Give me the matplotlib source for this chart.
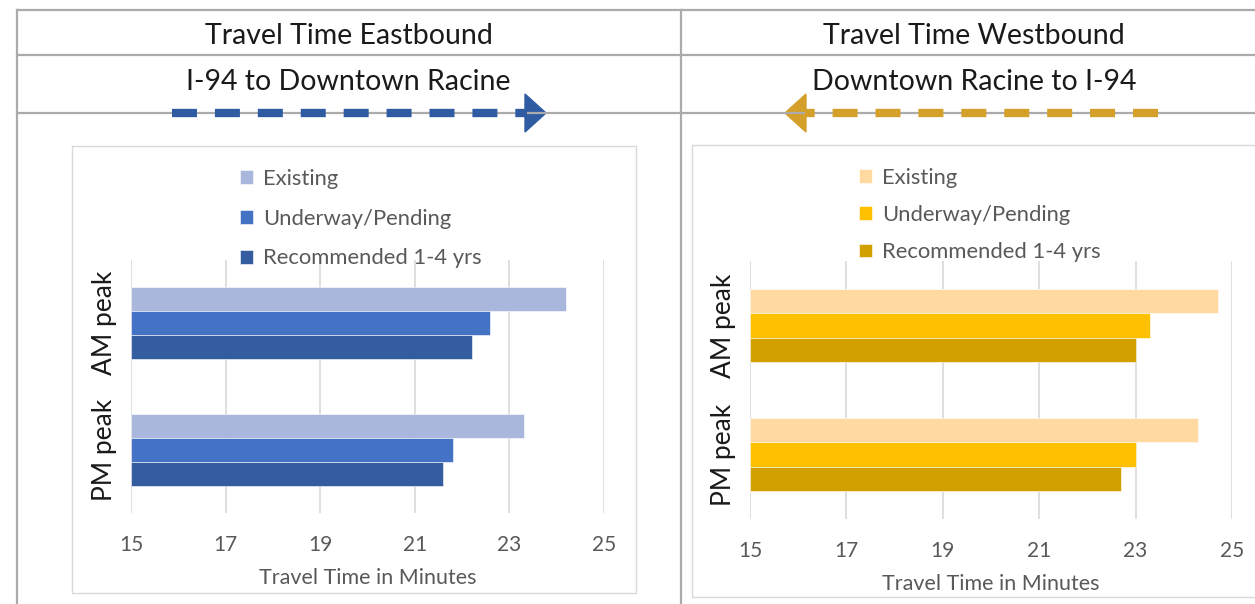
import numpy as np
import matplotlib
matplotlib.use("Agg")
import matplotlib.pyplot as plt
from matplotlib.lines import Line2D
from matplotlib.patches import Rectangle, Polygon

plt.rcParams['font.family'] = ['Lato', 'DejaVu Sans']

# data
periods = ['PM peak', 'AM peak']
series = ['Existing', 'Underway/Pending', 'Recommended 1-4 yrs']
east_existing = [23.3, 24.2]
east_underway = [21.8, 22.6]
east_recommended = [21.6, 22.2]
west_existing = [24.3, 24.7]
west_underway = [23.0, 23.3]
west_recommended = [22.7, 23.0]
x_ticks = [15, 17, 19, 21, 23, 25]

blue_colors = ['#A9B7DC', '#4472C4', '#345DA0']
gold_colors = ['#FFD9A0', '#FFC000', '#D2A000']

W, H = 1255, 604
fig = plt.figure(figsize=(W / 100, H / 100), dpi=100)


def fx(px):
    return px / W


def fy(py):
    return 1 - py / H


# table grid
grid_col = '#ababab'
for y in [10, 55, 113]:
    fig.add_artist(Line2D([fx(17), 1], [fy(y), fy(y)], color=grid_col, lw=1.6))
for x in [17, 681]:
    fig.add_artist(Line2D([fx(x), fx(x)], [fy(10), 0], color=grid_col, lw=1.6))

# chart boxes
for x0, y0, x1, y1 in [(72, 146, 636, 593), (692, 145, 1262, 597)]:
    fig.add_artist(Rectangle((fx(x0), fy(y1)), fx(x1) - fx(x0), fy(y0) - fy(y1),
                             fill=False, edgecolor='#d9d9d9', lw=1))

# headings
head_kw = dict(ha='center', va='center', fontsize=20.5, color='#1a1a1a')
fig.text(fx(349), fy(36), 'Travel Time Eastbound', **head_kw)
fig.text(fx(348), fy(82), 'I-94 to Downtown Racine', **head_kw)
fig.text(fx(974), fy(36), 'Travel Time Westbound', **head_kw)
fig.text(fx(974), fy(82), 'Downtown Racine to I-94', **head_kw)

# direction arrows
arrow_blue = '#2F5BA3'
arrow_gold = '#D4A02A'
fig.add_artist(Line2D([fx(172), fx(527)], [fy(113), fy(113)], color=arrow_blue, lw=6,
                      dashes=(3.0, 2.15), solid_capstyle='butt', dash_capstyle='butt'))
fig.add_artist(Polygon([(fx(525), fy(94)), (fx(546), fy(113)), (fx(525), fy(132))],
                       closed=True, color=arrow_blue))
fig.add_artist(Line2D([fx(1158), fx(805)], [fy(113), fy(113)], color=arrow_gold, lw=6,
                      dashes=(3.0, 2.15), solid_capstyle='butt', dash_capstyle='butt'))
fig.add_artist(Polygon([(fx(806), fy(94)), (fx(785), fy(113)), (fx(806), fy(132))],
                       closed=True, color=arrow_gold))


def draw_panel(rect, values, colors, legend_xy, legend_spacing):
    x0, y0, x1, y1 = rect
    ax = fig.add_axes([fx(x0), fy(y1), fx(x1) - fx(x0), fy(y0) - fy(y1)])
    pos = np.arange(len(periods))
    h = 0.19
    offsets = [h, 0, -h]
    handles = []
    for vals, col, off, name in zip(values, colors, offsets, series):
        b = ax.barh(pos + off, np.array(vals) - 15, left=15, height=h, color=col,
                    edgecolor='white', linewidth=0.4, label=name, zorder=3)
        handles.append(b)
    ax.set_xlim(15, 25)
    ax.set_ylim(-0.5, 1.5)
    ax.set_xticks(x_ticks)
    ax.set_xticklabels([str(t) for t in x_ticks], fontsize=15, color='#595959')
    ax.set_yticks(pos)
    ax.set_yticklabels(periods, rotation=90, va='center', fontsize=19, color='#1a1a1a')
    ax.tick_params(axis='both', length=0)
    ax.tick_params(axis='x', pad=15.5)
    ax.tick_params(axis='y', pad=10)
    ax.grid(axis='x', color='#d9d9d9', lw=1.2, zorder=0)
    for s in ax.spines.values():
        s.set_visible(False)
    ax.set_xlabel('Travel Time in Minutes', fontsize=15.5, color='#595959', labelpad=10)
    lx, ly = legend_xy
    ax.legend(handles=handles, loc='upper left', bbox_to_anchor=(fx(lx), fy(ly)),
              bbox_transform=fig.transFigure, frameon=False, fontsize=15.8,
              labelcolor='#595959', handlelength=0.6, handleheight=0.6,
              handletextpad=0.45, labelspacing=legend_spacing, borderpad=0, borderaxespad=0)
    return ax


draw_panel((131, 260, 604, 513), [east_existing, east_underway, east_recommended],
           blue_colors, (240, 169), 0.9)
draw_panel((750, 261, 1232, 519), [west_existing, west_underway, west_recommended],
           gold_colors, (859, 168), 0.78)

fig.savefig('out.png', dpi=100, facecolor='white')
